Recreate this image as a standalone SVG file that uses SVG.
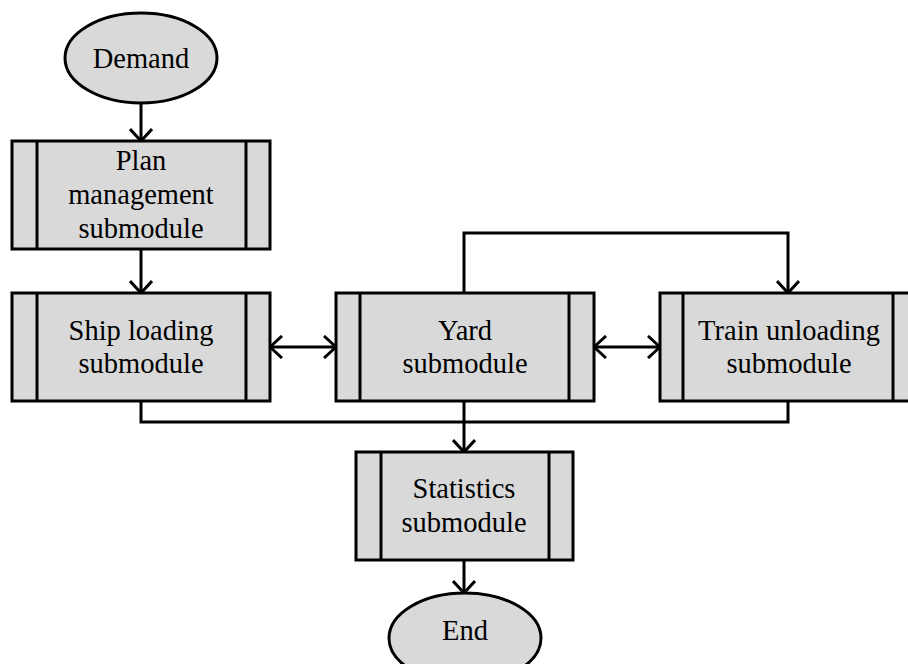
<svg xmlns="http://www.w3.org/2000/svg" width="908" height="664" viewBox="0 0 908 664">
<style>
.box{fill:#d9d9d9;stroke:#000;stroke-width:3}
.bar{stroke:#000;stroke-width:3;fill:none}
.ell{fill:#d9d9d9;stroke:#000;stroke-width:3}
.con{fill:none;stroke:#000;stroke-width:3}
text{font-family:"Liberation Serif","Times New Roman",serif;font-size:28.5px;fill:#000;text-anchor:middle}
</style>
<defs>
<marker id="arr" viewBox="0 0 14 24" refX="13" refY="12" markerWidth="14" markerHeight="24" markerUnits="userSpaceOnUse" orient="auto-start-reverse">
<path d="M1,1 L13,12 L1,23" fill="none" stroke="#000" stroke-width="3"/>
</marker>
</defs>
<rect width="908" height="664" fill="#fff"/>
<g id="connectors">
<line class="con" x1="141" y1="103" x2="141" y2="141" marker-end="url(#arr)"/>
<line class="con" x1="141" y1="249" x2="141" y2="293" marker-end="url(#arr)"/>
<line class="con" x1="270" y1="347" x2="336" y2="347" marker-start="url(#arr)" marker-end="url(#arr)"/>
<line class="con" x1="594" y1="347" x2="660" y2="347" marker-start="url(#arr)" marker-end="url(#arr)"/>
<polyline class="con" points="464,293 464,233 788,233 788,293" marker-end="url(#arr)"/>
<polyline class="con" points="141,401 141,422 788,422 788,401"/>
<line class="con" x1="464" y1="401" x2="464" y2="452" marker-end="url(#arr)"/>
<line class="con" x1="464" y1="560" x2="464" y2="593" marker-end="url(#arr)"/>
</g>
<g id="demand">
<ellipse class="ell" cx="141" cy="58" rx="76" ry="45"/>
<text x="141" y="68">Demand</text>
</g>
<g id="plan">
<rect class="box" x="12" y="141" width="258" height="108"/>
<line class="bar" x1="37" y1="141" x2="37" y2="249"/>
<line class="bar" x1="246" y1="141" x2="246" y2="249"/>
<text x="141" y="170">Plan</text>
<text x="141" y="204">management</text>
<text x="141" y="238">submodule</text>
</g>
<g id="ship">
<rect class="box" x="12" y="293" width="258" height="108"/>
<line class="bar" x1="37" y1="293" x2="37" y2="401"/>
<line class="bar" x1="246" y1="293" x2="246" y2="401"/>
<text x="141" y="340">Ship loading</text>
<text x="141" y="373">submodule</text>
</g>
<g id="yard">
<rect class="box" x="336" y="293" width="258" height="108"/>
<line class="bar" x1="360" y1="293" x2="360" y2="401"/>
<line class="bar" x1="569" y1="293" x2="569" y2="401"/>
<text x="465" y="340">Yard</text>
<text x="465" y="373">submodule</text>
</g>
<g id="train">
<rect class="box" x="660" y="293" width="258" height="108"/>
<line class="bar" x1="683" y1="293" x2="683" y2="401"/>
<line class="bar" x1="893" y1="293" x2="893" y2="401"/>
<text x="789" y="340">Train unloading</text>
<text x="789" y="373">submodule</text>
</g>
<g id="statistics">
<rect class="box" x="356" y="452" width="217" height="108"/>
<line class="bar" x1="381" y1="452" x2="381" y2="560"/>
<line class="bar" x1="549" y1="452" x2="549" y2="560"/>
<text x="464" y="498">Statistics</text>
<text x="464" y="532">submodule</text>
</g>
<g id="end">
<ellipse class="ell" cx="465" cy="638" rx="76" ry="45"/>
<text x="465" y="640">End</text>
</g>
</svg>
